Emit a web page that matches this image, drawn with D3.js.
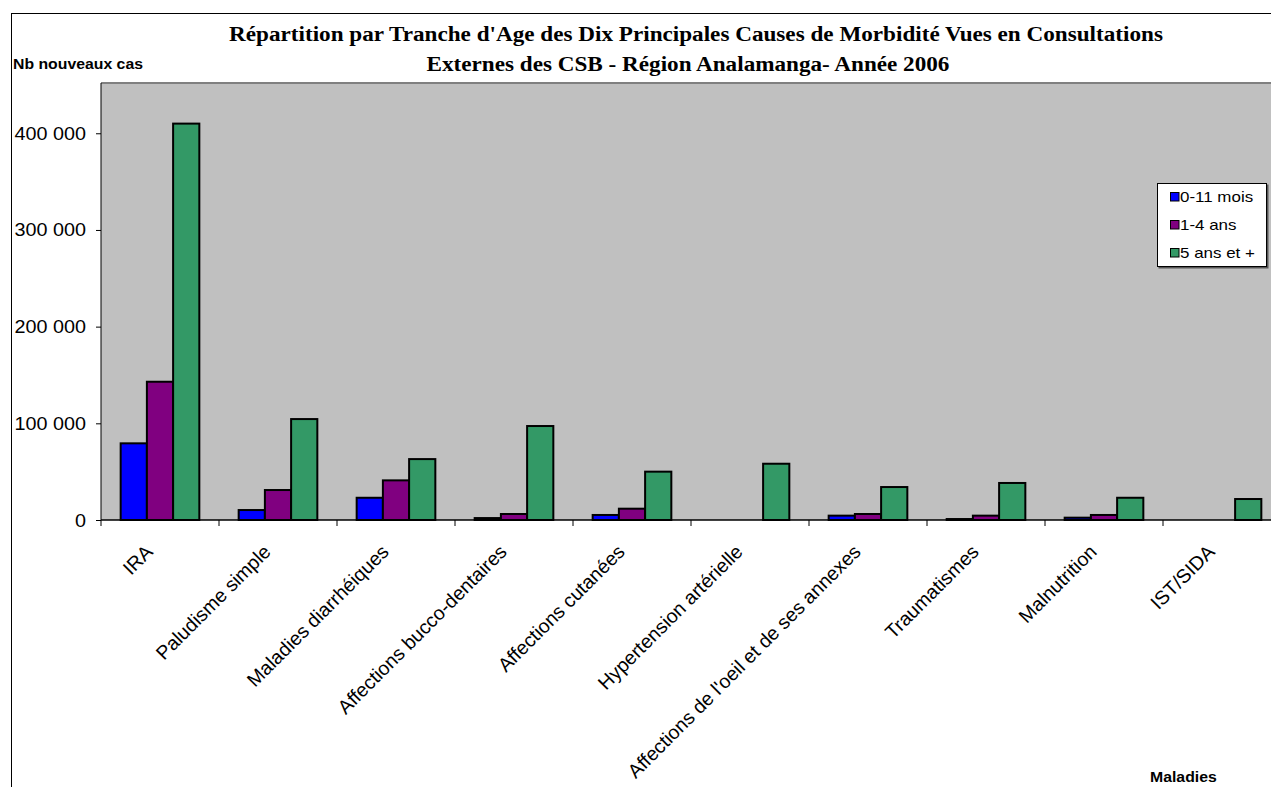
<!DOCTYPE html>
<html>
<head>
<meta charset="utf-8">
<script src="https://cdn.jsdelivr.net/npm/d3@7"></script>
<style>
  body { margin: 0; background: #fff; }
  svg { display: block; }
</style>
</head>
<body>
<div id="chart"></div>
<script>
const maladies = ["IRA", "Paludisme simple", "Maladies diarrhéiques", "Affections bucco-dentaires",
    "Affections cutanées", "Hypertension artérielle", "Affections de l'oeil et de ses annexes",
    "Traumatismes", "Malnutrition", "IST/SIDA"];
const tranches = ["0-11 mois", "1-4 ans", "5 ans et +"];
const mois0_11 = [79300, 10300, 23000, 2000, 5200, 0, 4500, 1000, 2400, 0];
const ans1_4 = [143000, 31000, 41000, 6200, 11700, 0, 6200, 4500, 5200, 0];
const ans5plus = [410000, 104400, 63000, 97200, 50000, 58200, 34100, 38300, 23000, 21700];
const yTicks = [0, 100000, 200000, 300000, 400000];
const couleurs = ["#0000ff", "#800080", "#339966"];

const series = [mois0_11, ans1_4, ans5plus];
const rows = maladies.map((m, i) => ({ maladie: m, values: series.map((s, j) => ({ key: tranches[j], value: s[i], idx: j })) }));

const W = 1271, H = 787;
const stretch = 1.13; // text looks a bit wider than normal in the original

const svg = d3.select("#chart").append("svg")
    .attr("width", W)
    .attr("height", H);

// outer chart border
svg.append("rect")
    .attr("x", 11.5).attr("y", 13.5)
    .attr("width", 1400).attr("height", 900)
    .attr("fill", "#fff")
    .attr("stroke", "#000")
    .attr("stroke-width", 1);

const plotLeft = 101, plotRight = 1281, plotTop = 83, plotBottom = 520;

const x0 = d3.scaleBand()
    .domain(maladies)
    .range([plotLeft, plotRight])
    .padding(0);

const barW = x0.bandwidth() / 4.5;
const x1 = d3.scaleBand()
    .domain(tranches)
    .range([barW * 0.75, x0.bandwidth() - barW * 0.75])
    .padding(0);

const y = d3.scaleLinear()
    .domain([0, 452000])
    .range([plotBottom, plotTop]);

// plot area
svg.append("rect")
    .attr("x", plotLeft).attr("y", plotTop)
    .attr("width", plotRight - plotLeft).attr("height", plotBottom - plotTop)
    .attr("fill", "#c0c0c0");
svg.append("line")
    .attr("x1", plotLeft).attr("x2", plotRight)
    .attr("y1", plotTop).attr("y2", plotTop)
    .attr("stroke", "#808080").attr("stroke-width", 2);

// bars
const groups = svg.append("g").selectAll("g")
    .data(rows)
    .enter()
    .append("g")
        .attr("transform", d => `translate(${x0(d.maladie)},0)`);

groups.selectAll("rect")
    .data(d => d.values)
    .enter()
    .append("rect")
        .attr("x", d => x1(d.key))
        .attr("y", d => y(d.value))
        .attr("width", x1.bandwidth())
        .attr("height", d => plotBottom - y(d.value))
        .attr("fill", d => couleurs[d.idx])
        .attr("stroke", "#000")
        .attr("stroke-width", 2)
        .attr("visibility", d => d.value > 0 ? "visible" : "hidden");

// y axis
const yAxis = svg.append("g")
    .attr("transform", `translate(${plotLeft},0)`)
    .call(d3.axisLeft(y).tickValues(yTicks).tickSize(5).tickFormat(""));
yAxis.select(".domain").attr("stroke", "#000").attr("d", `M0,${plotTop}V${plotBottom}`);

svg.append("g").selectAll("text")
    .data(yTicks)
    .enter()
    .append("text")
        .attr("transform", d => `translate(86,${y(d) + 6.5}) scale(${stretch},1)`)
        .attr("text-anchor", "end")
        .attr("font-family", "Arial, 'Liberation Sans', sans-serif")
        .attr("font-size", "17.5px")
        .attr("fill", "#000")
        .text(d => d === 0 ? "0" : d3.format(",")(d).replace(/,/g, " "));

// x axis: ticks at band boundaries
const xAxisG = svg.append("g");
xAxisG.append("line")
    .attr("x1", plotLeft).attr("x2", plotRight)
    .attr("y1", plotBottom).attr("y2", plotBottom)
    .attr("stroke", "#000").attr("stroke-width", 1.5);
xAxisG.selectAll("line.tick")
    .data(maladies)
    .enter()
    .append("line")
        .attr("class", "tick")
        .attr("x1", d => x0(d)).attr("x2", d => x0(d))
        .attr("y1", plotBottom).attr("y2", plotBottom + 6)
        .attr("stroke", "#000");

xAxisG.selectAll("text")
    .data(maladies)
    .enter()
    .append("text")
        .attr("transform", d => `translate(${x0(d) + x0.bandwidth() / 2 - 6},553) rotate(-45)`)
        .attr("text-anchor", "end")
        .attr("font-family", "Arial, 'Liberation Sans', sans-serif")
        .attr("font-size", "19.5px")
        .attr("fill", "#000")
        .text(d => d);

// titles
const title = ["Répartition par Tranche d'Age des Dix Principales Causes de Morbidité Vues en Consultations",
    "Externes des CSB - Région Analamanga- Année 2006"];
svg.append("g").selectAll("text")
    .data(title)
    .enter()
    .append("text")
        .attr("transform", (d, i) => `translate(${i === 0 ? 696 : 688},${41 + i * 29.5}) scale(${stretch},1)`)
        .attr("text-anchor", "middle")
        .attr("font-family", "'Times New Roman', 'Liberation Serif', serif")
        .attr("font-weight", "bold")
        .attr("font-size", "20.5px")
        .attr("fill", "#000")
        .text(d => d);

svg.append("text")
    .attr("transform", `translate(13,69) scale(${stretch},1)`)
    .attr("font-family", "Arial, 'Liberation Sans', sans-serif")
    .attr("font-weight", "bold")
    .attr("font-size", "14px")
    .text("Nb nouveaux cas");

svg.append("text")
    .attr("transform", `translate(1150,782) scale(${stretch},1)`)
    .attr("font-family", "Arial, 'Liberation Sans', sans-serif")
    .attr("font-weight", "bold")
    .attr("font-size", "14px")
    .text("Maladies");

// legend
const legend = svg.append("g");
legend.append("rect")
    .attr("x", 1158.5).attr("y", 184.5)
    .attr("width", 110).attr("height", 84)
    .attr("fill", "#555");
legend.append("rect")
    .attr("x", 1157.5).attr("y", 183.5)
    .attr("width", 109).attr("height", 83)
    .attr("fill", "#fff")
    .attr("stroke", "#000");

const items = legend.selectAll("g.item")
    .data(tranches)
    .enter()
    .append("g")
        .attr("class", "item")
        .attr("transform", (d, i) => `translate(1170,${192 + i * 28})`);
items.append("rect")
    .attr("x", 0.5).attr("y", 0.5)
    .attr("width", 8.5).attr("height", 8.5)
    .attr("fill", (d, i) => couleurs[i])
    .attr("stroke", "#000")
    .attr("stroke-width", 1);
items.append("text")
    .attr("transform", `translate(10,9.5) scale(${stretch},1)`)
    .attr("font-family", "Arial, 'Liberation Sans', sans-serif")
    .attr("font-size", "15px")
    .text(d => d);
</script>
</body>
</html>
